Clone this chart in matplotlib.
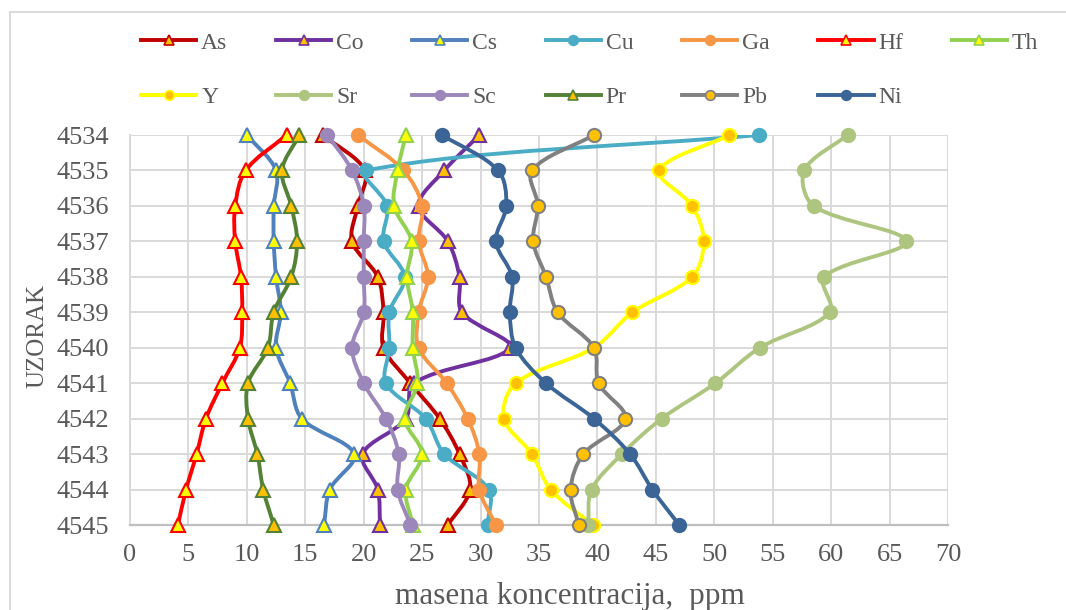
import numpy as np
from matplotlib import pyplot as plt
from matplotlib.path import Path
from matplotlib.patches import PathPatch, Rectangle
from matplotlib.lines import Line2D

plt.rcParams['font.family'] = ['Liberation Serif', 'DejaVu Serif']

samples = [4534, 4535, 4536, 4537, 4538, 4539, 4540, 4541, 4542, 4543, 4544, 4545]

As = [16.5, 20.1, 19.5, 19.0, 21.2, 21.7, 21.7, 24.0, 26.5, 28.2, 29.1, 27.2]
Co = [29.9, 26.9, 24.7, 27.2, 28.2, 28.4, 32.5, 24.3, 23.6, 19.9, 21.2, 21.4]
Cs = [10.0, 12.5, 12.3, 12.3, 12.5, 12.9, 12.5, 13.7, 14.7, 19.2, 17.1, 16.6]
Cu = [53.8, 20.2, 22.0, 21.7, 23.5, 22.2, 22.2, 21.9, 25.3, 26.9, 30.7, 30.6]
Ga = [19.5, 23.4, 25.0, 24.7, 25.5, 24.7, 24.7, 27.1, 28.9, 29.9, 29.9, 31.3]
Hf = [13.4, 9.9, 9.0, 9.0, 9.5, 9.6, 9.4, 7.9, 6.5, 5.7, 4.8, 4.1]
Th = [23.6, 22.9, 22.6, 24.1, 23.7, 24.2, 24.2, 24.6, 23.5, 25.0, 23.6, 24.2]
Y = [51.3, 45.3, 48.1, 49.1, 48.1, 43.0, 39.7, 33.0, 32.0, 34.4, 36.0, 39.6]
Sr = [61.4, 57.7, 58.5, 66.4, 59.4, 59.9, 53.9, 50.1, 45.5, 42.1, 39.5, 39.2]
Sc = [16.9, 19.0, 20.0, 20.0, 20.0, 20.0, 19.0, 20.0, 21.9, 23.0, 22.9, 24.0]
Pr = [14.5, 13.0, 13.8, 14.3, 13.8, 12.3, 11.8, 10.1, 10.1, 10.9, 11.4, 12.3]
Pb = [39.7, 34.4, 34.9, 34.5, 35.6, 36.6, 39.7, 40.1, 42.4, 38.8, 37.7, 38.4]
Ni = [26.7, 31.5, 32.2, 31.3, 32.7, 32.5, 33.0, 35.6, 39.7, 42.8, 44.7, 47.0]

# name, values, line colour, marker, marker fill, marker edge
series = [
    ('As', As, '#C00000', '^', '#FFC000', '#C00000'),
    ('Co', Co, '#7030A0', '^', '#FFC000', '#7030A0'),
    ('Cs', Cs, '#4F81BD', '^', '#FFFF00', '#4F81BD'),
    ('Cu', Cu, '#4BACC6', 'o', '#4BACC6', '#4BACC6'),
    ('Ga', Ga, '#F79646', 'o', '#F79646', '#F79646'),
    ('Hf', Hf, '#FF0000', '^', '#FFFF00', '#FF0000'),
    ('Th', Th, '#92D050', '^', '#FFFF00', '#92D050'),
    ('Y', Y, '#FFFF00', 'o', '#FFC000', '#FFFF00'),
    ('Sr', Sr, '#ADC57E', 'o', '#ADC57E', '#ADC57E'),
    ('Sc', Sc, '#9B87BA', 'o', '#9B87BA', '#9B87BA'),
    ('Pr', Pr, '#538135', '^', '#FFC000', '#538135'),
    ('Pb', Pb, '#808080', 'o', '#FFC000', '#808080'),
    ('Ni', Ni, '#3B6596', 'o', '#3B6596', '#3B6596'),
]

TXT = '#595959'


def smooth_path(ax, xs, ys):
    # excel-like smoothed line, built in pixel space, tangents weighted by
    # segment lengths so short segments next to long ones do not overshoot
    p = ax.transData.transform(np.column_stack([xs, ys]).astype(float))
    n = len(p)
    verts = [p[0]]
    codes = [Path.MOVETO]
    for i in range(n - 1):
        a = p[i - 1] if i > 0 else p[i]
        d = p[i + 2] if i + 2 < n else p[i + 1]
        b, c = p[i], p[i + 1]
        seg = np.hypot(*(c - b))
        lb = np.hypot(*(b - a)) + seg
        lc = np.hypot(*(d - c)) + seg
        c1 = b + (c - a) / 3.0 * (seg / lb if lb > 0 else 0)
        c2 = c - (d - b) / 3.0 * (seg / lc if lc > 0 else 0)
        verts += [c1, c2, c]
        codes += [Path.CURVE4] * 3
    verts = ax.transData.inverted().transform(np.array(verts))
    return Path(verts, codes)


fig = plt.figure(figsize=(10.66, 6.10), dpi=100)
ax = fig.add_axes([130 / 1066, 1 - 525 / 610, 818 / 1066, 390 / 610])
ax.set_xlim(0, 70)
ax.set_ylim(4545, 4534)

for k, (name, vals, col, mk, mfc, mec) in enumerate(series):
    z = 3 + k
    ax.add_patch(PathPatch(smooth_path(ax, vals, samples), fc='none', ec=col,
                           lw=2.8, zorder=z, capstyle='round', joinstyle='round'))
    ms = 10 if mk == '^' else 9.5
    ax.plot(vals, samples, ls='none', marker=mk, ms=ms, mfc=mfc, mec=mec,
            mew=1.5, zorder=z + 0.5, clip_on=False)

ax.set_xticks(range(0, 71, 5))
ax.set_yticks(samples)
ax.set_yticklabels([str(s) for s in samples])
ax.grid(True, color='#D9D9D9', lw=1.4)
ax.set_axisbelow(True)
for side in ('top', 'right'):
    ax.spines[side].set_visible(False)
ax.spines['left'].set_color('#D9D9D9')
ax.spines['left'].set_linewidth(1.4)
ax.spines['bottom'].set_color('#BFBFBF')
ax.spines['bottom'].set_linewidth(1.6)
ax.tick_params(axis='both', length=0, labelsize=19, labelcolor=TXT)
ax.tick_params(axis='y', pad=15)
ax.tick_params(axis='x', pad=14)

ax.set_xlabel('masena koncentracija,  ppm', fontsize=22.5, color=TXT)
ax.xaxis.set_label_coords(0.538, -0.146)
ax.set_ylabel('UZORAK', fontsize=18, color=TXT)
ax.yaxis.set_label_coords(-0.100, 0.485)

# legend: reorder so column-major filling reads row by row
handles = []
for name, vals, col, mk, mfc, mec in series:
    handles.append(Line2D([], [], color=col, lw=2.8, marker=mk, ms=7,
                          mfc=mfc, mec=mec, mew=1.2, label=name))
order = [0, 7, 1, 8, 2, 9, 3, 10, 4, 11, 5, 12, 6]
fig.legend([handles[i] for i in order], [series[i][0] for i in order],
           ncol=7, loc='upper left', bbox_to_anchor=(141 / 1066, 1 - 32 / 610),
           frameon=False, fontsize=17, labelcolor=TXT, handlelength=2.35,
           handletextpad=0.2, columnspacing=2.05, labelspacing=1.4,
           borderpad=0, borderaxespad=0)

# outer chart border
fig.patches.append(Rectangle((10 / 1066, -0.05), 1.1, 1.05 - 12 / 610,
                             transform=fig.transFigure, fill=False,
                             ec='#D9D9D9', lw=1.4))

fig.savefig('out.png', dpi=100)
